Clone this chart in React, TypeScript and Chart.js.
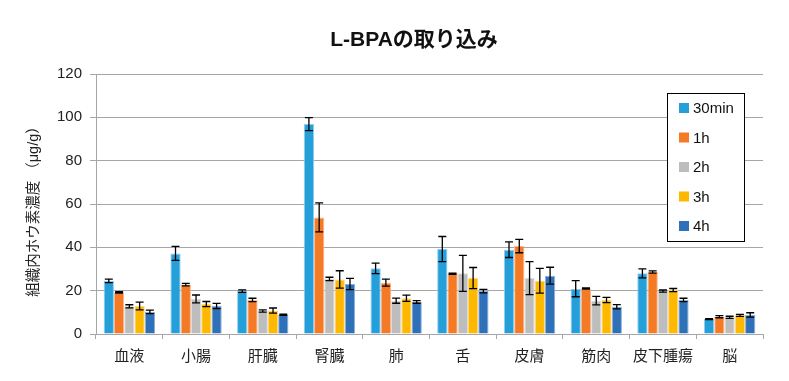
import React, { useEffect, useRef } from "react";
import { Chart, registerables } from "chart.js";

Chart.register(...registerables);

const categories = ["血液", "小腸", "肝臓", "腎臓", "肺", "舌", "皮膚", "筋肉", "皮下腫瘍", "脳"];
const seriesLabels = ["30min", "1h", "2h", "3h", "4h"];
const seriesColors = ["#259fd9", "#f57a25", "#bdbdbd", "#ffb800", "#2f71b9"];
const seriesBorders = ["#8fcdee", "#fbb58a", "#dcdcdc", "#ffd97a", "#8eb0da"];

const values30min = [24.5, 37.2, 19.8, 96.9, 30.3, 39.2, 38.9, 20.9, 28.0, 6.9];
const values1h = [19.2, 22.8, 15.7, 53.8, 23.7, 27.8, 40.6, 21.0, 28.6, 8.0];
const values2h = [12.8, 16.2, 10.6, 25.4, 15.4, 28.0, 25.8, 15.4, 19.8, 7.7];
const values3h = [12.9, 13.8, 10.8, 25.2, 16.5, 25.8, 24.6, 15.7, 20.3, 8.6];
const values4h = [10.2, 12.9, 8.9, 23.1, 14.8, 19.8, 26.9, 12.6, 15.7, 8.8];

const err30min = [0.8, 3.2, 0.6, 3.0, 2.4, 5.8, 3.6, 3.7, 2.1, 0.2];
const err1h = [0.3, 0.6, 0.8, 6.7, 1.6, 0.3, 3.1, 0.3, 0.5, 0.5];
const err2h = [0.7, 1.8, 0.5, 0.8, 1.2, 8.3, 7.6, 2.0, 0.5, 0.5];
const err3h = [1.8, 1.2, 1.2, 4.0, 1.4, 4.9, 5.7, 1.2, 0.7, 0.5];
const err4h = [0.8, 1.2, 0.3, 2.6, 0.6, 0.8, 3.9, 1.0, 0.8, 1.0];

const seriesValues = [values30min, values1h, values2h, values3h, values4h];
const seriesErrors = [err30min, err1h, err2h, err3h, err4h];

const yTicks = [0, 20, 40, 60, 80, 100, 120];

const titleText = "L-BPAの取り込み";
const yTitleText = "組織内ホウ素濃度 （μg/g）";

const FONT = "'Liberation Sans', 'Noto Sans CJK JP', sans-serif";

const overlayPlugin = {
  id: "overlay",
  afterDatasetsDraw(chart: any) {
    const ctx = chart.ctx;
    const yScale = chart.scales.y;
    ctx.save();
    ctx.strokeStyle = "#000";
    ctx.lineWidth = 1.3;
    chart.data.datasets.forEach((ds: any, di: number) => {
      const meta = chart.getDatasetMeta(di);
      const errs = seriesErrors[di];
      meta.data.forEach((bar: any, i: number) => {
        const v = ds.data[i];
        const e = errs[i];
        const x = bar.x;
        const yT = yScale.getPixelForValue(v + e);
        const yB = yScale.getPixelForValue(v - e);
        const cap = 4;
        ctx.beginPath();
        ctx.moveTo(x, yT);
        ctx.lineTo(x, yB);
        ctx.moveTo(x - cap, yT);
        ctx.lineTo(x + cap, yT);
        ctx.moveTo(x - cap, yB);
        ctx.lineTo(x + cap, yB);
        ctx.stroke();
      });
    });
    ctx.restore();
  },
  afterDraw(chart: any) {
    const ctx = chart.ctx;
    const area = chart.chartArea;
    ctx.save();
    // title
    ctx.fillStyle = "#111";
    ctx.font = `bold 21px ${FONT}`;
    ctx.textAlign = "center";
    ctx.textBaseline = "middle";
    ctx.fillText(titleText, 414, 40);
    // y title
    ctx.save();
    ctx.translate(34, 208);
    ctx.rotate(-Math.PI / 2);
    ctx.font = `14.5px ${FONT}`;
    ctx.fillStyle = "#222";
    ctx.fillText(yTitleText, 0, 0);
    ctx.restore();
    // legend
    const lx = area.left + (667 - 96);
    const ly = 93;
    const lw = 77;
    const lh = 148;
    ctx.fillStyle = "#fff";
    ctx.fillRect(lx, ly, lw, lh);
    ctx.strokeStyle = "#000";
    ctx.lineWidth = 1;
    ctx.strokeRect(lx + 0.5, ly + 0.5, lw, lh);
    ctx.font = `15px ${FONT}`;
    ctx.textAlign = "left";
    ctx.textBaseline = "middle";
    seriesLabels.forEach((lab, i) => {
      const cy = ly + 15 + i * 29.5;
      ctx.fillStyle = seriesColors[i];
      ctx.fillRect(lx + 12, cy - 5, 10, 10);
      ctx.fillStyle = "#111";
      ctx.fillText(lab, lx + 26, cy + 1);
    });
    ctx.restore();
  },
};

export default function App() {
  const canvasRef = useRef<HTMLCanvasElement | null>(null);

  useEffect(() => {
    document.body.style.margin = "0";
    const canvas = canvasRef.current;
    if (!canvas) return;
    const chart = new Chart(canvas, {
      type: "bar",
      data: {
        labels: categories,
        datasets: seriesLabels.map((lab, i) => ({
          label: lab,
          data: seriesValues[i],
          backgroundColor: seriesColors[i],
          borderColor: seriesBorders[i],
          borderWidth: 1,
          categoryPercentage: 0.77,
          barPercentage: 1.0,
        })),
      },
      options: {
        responsive: false,
        animation: false,
        maintainAspectRatio: false,
        layout: { padding: { top: 74, right: 26, left: 0, bottom: 0 } },
        plugins: {
          legend: { display: false },
          title: { display: false },
          tooltip: { enabled: false },
        },
        scales: {
          x: {
            afterFit: (scale: any) => {
              scale.height = 47;
            },
            grid: {
              display: true,
              drawOnChartArea: false,
              drawTicks: true,
              tickLength: 5,
              color: "#a6a6a6",
              offset: true,
            },
            border: { color: "#a6a6a6", width: 1 },
            ticks: {
              color: "#222",
              font: { size: 15, family: FONT },
              padding: 9,
              maxRotation: 0,
              autoSkip: false,
            },
          },
          y: {
            min: 0,
            max: 120,
            afterFit: (scale: any) => {
              scale.width = 96;
            },
            afterBuildTicks: (scale: any) => {
              scale.ticks = yTicks.map((v) => ({ value: v }));
            },
            grid: {
              color: "#a6a6a6",
              lineWidth: 1,
              drawTicks: true,
              tickLength: 6,
            },
            border: { color: "#a6a6a6", width: 1 },
            ticks: {
              color: "#222",
              font: { size: 15, family: FONT },
              padding: 8,
            },
          },
        },
      },
      plugins: [overlayPlugin],
    });
    return () => chart.destroy();
  }, []);

  return (
    <div style={{ position: "absolute", left: 0, top: 0, width: 789, height: 381 }}>
      <canvas ref={canvasRef} width={789} height={381} style={{ width: 789, height: 381 }} />
    </div>
  );
}
